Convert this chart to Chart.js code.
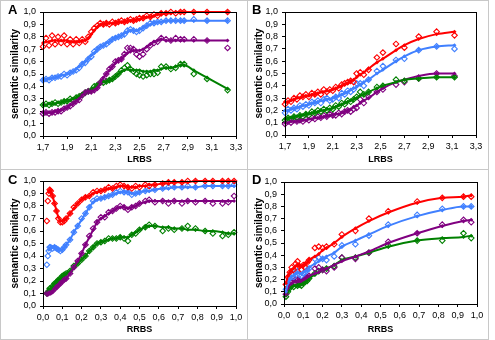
<!DOCTYPE html>
<html>
<head>
<meta charset="utf-8">
<script src="https://cdn.jsdelivr.net/npm/chart.js@4.4.0/dist/chart.umd.min.js"></script>
<style>
  body { margin: 0; background: #fff; }
  #figure { position: relative; width: 495px; height: 340px; }
  .frame { position: absolute; left: 0; top: 0; width: 489px; height: 340px; border: 1px solid #c8c8c8; box-sizing: border-box; }
  .vline { position: absolute; left: 247px; top: 0; width: 1px; height: 340px; background: #c8c8c8; }
  .hline { position: absolute; left: 0; top: 169px; width: 489px; height: 1px; background: #c8c8c8; }
  canvas { position: absolute; }
  .tag { position: absolute; font: bold 13px Arial, "Liberation Sans", sans-serif; color: #000; }
</style>
</head>
<body>
<div id="figure">
  <div class="frame"></div>
  <div class="vline"></div>
  <div class="hline"></div>
  <canvas id="panelA" width="245" height="168" style="left:1px;top:1px"></canvas>
  <canvas id="panelB" width="240" height="168" style="left:248px;top:1px"></canvas>
  <canvas id="panelC" width="245" height="168" style="left:1px;top:171px"></canvas>
  <canvas id="panelD" width="240" height="168" style="left:248px;top:171px"></canvas>
  <div class="tag" style="left:8px;top:2px">A</div>
  <div class="tag" style="left:252px;top:2px">B</div>
  <div class="tag" style="left:8px;top:172px">C</div>
  <div class="tag" style="left:252px;top:172px">D</div>
</div>
<script>
//  Colours used by the four series (same in every panel)
const red = '#ff0000';
const blue = '#4080ff';
const purple = '#800080';
const green = '#008000';

//  Tick labels
const yTicks = [0, 0.1, 0.2, 0.3, 0.4, 0.5, 0.6, 0.7, 0.8, 0.9, 1.0];
const xTicksLRBS = [1.7, 1.9, 2.1, 2.3, 2.5, 2.7, 2.9, 3.1, 3.3];
const xTicksRRBS = [0, 0.1, 0.2, 0.3, 0.4, 0.5, 0.6, 0.7, 0.8, 0.9, 1.0];

//******************************************************************************
//                               Panel A data
//******************************************************************************
const xA = [1.7, 1.725, 1.75, 1.775, 1.8, 1.825, 1.85, 1.875, 1.9, 1.925, 1.95, 1.975,
  2.0, 2.025, 2.05, 2.075, 2.1, 2.125, 2.15, 2.175, 2.2, 2.225, 2.25, 2.275, 2.3, 2.325,
  2.35, 2.375, 2.4, 2.425, 2.45, 2.475, 2.5,
  2.53, 2.56, 2.59, 2.62, 2.65, 2.68, 2.72, 2.76, 2.8, 2.84, 2.87, 2.95, 3.06, 3.23];
const redRawA = [0.72, 0.79, 0.73, 0.81, 0.74, 0.80, 0.75, 0.81, 0.74, 0.78, 0.74, 0.78,
  0.75, 0.78, 0.76, 0.80, 0.84, 0.87, 0.89, 0.91, 0.90, 0.91, 0.90, 0.92, 0.91, 0.92,
  0.93, 0.92, 0.93, 0.94, 0.93, 0.94, 0.95,
  0.95, 0.97, 0.96, 0.98, 0.97, 0.99, 0.99, 1.0, 0.99, 1.0, 1.0, 1.0, 1.0, 1.0];
const redFitA = [0.75, 0.76, 0.76, 0.77, 0.77, 0.77, 0.77, 0.77, 0.77, 0.76, 0.76, 0.76,
  0.76, 0.77, 0.77, 0.79, 0.82, 0.85, 0.88, 0.90, 0.90, 0.91, 0.91, 0.91, 0.91, 0.92,
  0.92, 0.92, 0.93, 0.93, 0.93, 0.94, 0.94,
  0.95, 0.96, 0.96, 0.97, 0.98, 0.98, 0.99, 0.99, 1.0, 1.0, 1.0, 1.0, 1.0, 1.0];
const blueRawA = [0.45, 0.46, 0.45, 0.47, 0.47, 0.48, 0.48, 0.50, 0.49, 0.51, 0.52, 0.53,
  0.55, 0.58, 0.59, 0.62, 0.64, 0.68, 0.70, 0.72, 0.73, 0.74, 0.76, 0.78, 0.79, 0.80,
  0.81, 0.82, 0.85, 0.86, 0.85, 0.84, 0.85,
  0.87, 0.89, 0.91, 0.91, 0.92, 0.92, 0.93, 0.93, 0.93, 0.93, 0.93, 0.94, 0.93, 0.93];
const blueFitA = [0.45, 0.46, 0.46, 0.47, 0.47, 0.48, 0.49, 0.49, 0.50, 0.51, 0.52, 0.54,
  0.56, 0.58, 0.60, 0.62, 0.65, 0.67, 0.70, 0.72, 0.73, 0.75, 0.76, 0.78, 0.79, 0.80,
  0.81, 0.83, 0.84, 0.85, 0.85, 0.85, 0.86,
  0.87, 0.89, 0.90, 0.91, 0.92, 0.92, 0.93, 0.93, 0.93, 0.93, 0.93, 0.93, 0.93, 0.93];
const purpleRawA = [0.18, 0.19, 0.18, 0.19, 0.19, 0.20, 0.20, 0.22, 0.23, 0.24, 0.26, 0.28,
  0.29, 0.33, 0.35, 0.36, 0.36, 0.37, 0.39, 0.43, 0.46, 0.50, 0.54, 0.56, 0.60, 0.61,
  0.62, 0.66, 0.71, 0.71, 0.70, 0.66, 0.64,
  0.66, 0.70, 0.73, 0.75, 0.76, 0.79, 0.78, 0.77, 0.79, 0.78, 0.78, 0.78, 0.77, 0.71];
const purpleFitA = [0.19, 0.19, 0.19, 0.19, 0.20, 0.20, 0.21, 0.22, 0.23, 0.25, 0.26, 0.28,
  0.30, 0.33, 0.35, 0.36, 0.36, 0.37, 0.39, 0.43, 0.47, 0.50, 0.53, 0.56, 0.59, 0.61,
  0.62, 0.65, 0.67, 0.68, 0.69, 0.69, 0.69,
  0.70, 0.72, 0.74, 0.76, 0.77, 0.78, 0.77, 0.77, 0.77, 0.77, 0.77, 0.77, 0.77, 0.77];
const greenRawA = [0.25, 0.26, 0.25, 0.26, 0.27, 0.26, 0.27, 0.28, 0.28, 0.30, 0.29, 0.31,
  0.32, 0.33, 0.35, 0.36, 0.37, 0.40, 0.41, 0.43, 0.43, 0.44, 0.45, 0.46, 0.48, 0.50,
  0.53, 0.55, 0.57, 0.54, 0.52, 0.50, 0.49,
  0.48, 0.49, 0.50, 0.50, 0.51, 0.56, 0.56, 0.54, 0.55, 0.58, 0.58, 0.50, 0.46, 0.37];
const greenFitA = [0.25, 0.25, 0.26, 0.26, 0.26, 0.27, 0.27, 0.28, 0.28, 0.29, 0.30, 0.31,
  0.32, 0.34, 0.35, 0.36, 0.37, 0.39, 0.41, 0.43, 0.44, 0.44, 0.45, 0.46, 0.48, 0.50,
  0.52, 0.53, 0.54, 0.53, 0.53, 0.53, 0.53,
  0.52, 0.52, 0.52, 0.53, 0.53, 0.54, 0.55, 0.55, 0.56, 0.57, 0.57, 0.53, 0.47, 0.38];

//******************************************************************************
//                               Panel B data
//******************************************************************************
const xB = [1.7, 1.725, 1.75, 1.775, 1.8, 1.825, 1.85, 1.875, 1.9, 1.925, 1.95, 1.975,
  2.0, 2.025, 2.05, 2.075, 2.1, 2.125, 2.15, 2.175, 2.2, 2.225, 2.25, 2.275, 2.3,
  2.33, 2.36, 2.4, 2.47, 2.52, 2.63, 2.7, 2.82, 2.97, 3.12];
const redRawB = [0.25, 0.28, 0.27, 0.30, 0.29, 0.32, 0.31, 0.33, 0.31, 0.34, 0.33, 0.35,
  0.33, 0.37, 0.35, 0.37, 0.36, 0.39, 0.38, 0.41, 0.42, 0.43, 0.44, 0.43, 0.50,
  0.51, 0.49, 0.53, 0.63, 0.67, 0.74, 0.71, 0.80, 0.84, 0.81];
const redFitB = [0.27, 0.27, 0.28, 0.29, 0.30, 0.30, 0.31, 0.32, 0.32, 0.33, 0.33, 0.34,
  0.35, 0.35, 0.36, 0.36, 0.37, 0.38, 0.39, 0.40, 0.41, 0.42, 0.44, 0.45, 0.47,
  0.49, 0.51, 0.54, 0.59, 0.62, 0.69, 0.73, 0.78, 0.82, 0.84];
const blueRawB = [0.18, 0.21, 0.20, 0.22, 0.21, 0.24, 0.23, 0.25, 0.24, 0.27, 0.26, 0.28,
  0.26, 0.29, 0.30, 0.28, 0.29, 0.31, 0.30, 0.34, 0.33, 0.36, 0.35, 0.37, 0.42,
  0.42, 0.40, 0.45, 0.52, 0.56, 0.61, 0.62, 0.69, 0.72, 0.70];
const blueFitB = [0.20, 0.20, 0.21, 0.22, 0.22, 0.23, 0.24, 0.24, 0.25, 0.26, 0.26, 0.27,
  0.28, 0.28, 0.29, 0.29, 0.30, 0.31, 0.32, 0.33, 0.34, 0.35, 0.37, 0.38, 0.39,
  0.41, 0.43, 0.45, 0.50, 0.53, 0.60, 0.64, 0.69, 0.72, 0.73];
const purpleRawB = [0.09, 0.11, 0.10, 0.12, 0.11, 0.12, 0.11, 0.13, 0.12, 0.14, 0.13, 0.15,
  0.14, 0.16, 0.15, 0.17, 0.16, 0.16, 0.18, 0.17, 0.19, 0.20, 0.19, 0.21, 0.22,
  0.29, 0.26, 0.31, 0.35, 0.37, 0.41, 0.43, 0.46, 0.50, 0.48];
const purpleFitB = [0.10, 0.10, 0.11, 0.11, 0.11, 0.12, 0.12, 0.12, 0.13, 0.13, 0.14, 0.14,
  0.14, 0.15, 0.15, 0.16, 0.16, 0.17, 0.17, 0.18, 0.19, 0.20, 0.21, 0.23, 0.24,
  0.26, 0.28, 0.30, 0.35, 0.38, 0.43, 0.45, 0.48, 0.50, 0.50];
const greenRawB = [0.12, 0.14, 0.13, 0.15, 0.14, 0.16, 0.15, 0.17, 0.16, 0.19, 0.18, 0.20,
  0.19, 0.21, 0.20, 0.22, 0.21, 0.24, 0.23, 0.26, 0.25, 0.28, 0.27, 0.29, 0.31,
  0.35, 0.33, 0.35, 0.39, 0.40, 0.45, 0.44, 0.46, 0.47, 0.47];
const greenFitB = [0.13, 0.14, 0.14, 0.15, 0.15, 0.16, 0.16, 0.17, 0.17, 0.18, 0.18, 0.19,
  0.20, 0.20, 0.21, 0.21, 0.22, 0.23, 0.24, 0.25, 0.26, 0.27, 0.28, 0.29, 0.30,
  0.32, 0.33, 0.35, 0.38, 0.40, 0.43, 0.45, 0.46, 0.47, 0.47];

//******************************************************************************
//                               Panel C data
//******************************************************************************
const xC = [0.02, 0.025, 0.03, 0.035, 0.04, 0.05, 0.06, 0.07, 0.08, 0.09, 0.10, 0.11, 0.12,
  0.14, 0.16, 0.18, 0.20, 0.22, 0.24, 0.26, 0.28, 0.30, 0.32, 0.34, 0.36, 0.38, 0.40,
  0.42, 0.44, 0.46, 0.48, 0.50,
  0.53, 0.55, 0.58, 0.62, 0.65, 0.68, 0.72, 0.75, 0.79, 0.84, 0.88, 0.93, 0.96, 0.99];
const redRawC = [0.68, 0.84, 0.90, 0.93, 0.92, 0.88, 0.82, 0.76, 0.70, 0.67, 0.67, 0.68, 0.70,
  0.74, 0.79, 0.82, 0.85, 0.87, 0.88, 0.91, 0.92, 0.92, 0.93, 0.95, 0.94, 0.96, 0.97,
  0.96, 0.95, 0.94, 0.96, 0.95,
  0.97, 0.96, 0.97, 0.98, 0.99, 0.99, 0.99, 1.0, 1.0, 1.0, 1.0, 1.0, 1.0, 1.0];
const redFitC = [null, null, 0.91, 0.93, 0.92, 0.88, 0.82, 0.76, 0.71, 0.68, 0.68, 0.69, 0.70,
  0.74, 0.78, 0.82, 0.85, 0.87, 0.88, 0.90, 0.91, 0.92, 0.93, 0.94, 0.94, 0.95, 0.96,
  0.96, 0.95, 0.95, 0.95, 0.96,
  0.96, 0.97, 0.97, 0.98, 0.98, 0.99, 0.99, 0.99, 1.0, 1.0, 1.0, 1.0, 1.0, 1.0];
const blueRawC = [0.33, 0.40, 0.44, 0.47, 0.47, 0.46, 0.47, 0.46, 0.45, 0.44, 0.45, 0.47, 0.49,
  0.53, 0.59, 0.64, 0.70, 0.74, 0.79, 0.84, 0.86, 0.86, 0.87, 0.88, 0.89, 0.91, 0.92,
  0.91, 0.91, 0.89, 0.90, 0.91,
  0.92, 0.93, 0.93, 0.94, 0.95, 0.95, 0.95, 0.96, 0.95, 0.96, 0.96, 0.96, 0.96, 0.97];
const blueFitC = [null, null, 0.45, 0.46, 0.47, 0.47, 0.47, 0.46, 0.45, 0.45, 0.45, 0.47, 0.49,
  0.53, 0.59, 0.64, 0.69, 0.74, 0.79, 0.83, 0.85, 0.86, 0.87, 0.88, 0.89, 0.90, 0.91,
  0.91, 0.91, 0.90, 0.90, 0.91,
  0.92, 0.92, 0.93, 0.94, 0.94, 0.95, 0.95, 0.95, 0.95, 0.96, 0.96, 0.96, 0.96, 0.96];
const purpleRawC = [0.10, 0.10, 0.11, 0.11, 0.11, 0.12, 0.14, 0.15, 0.17, 0.18, 0.20, 0.21, 0.22,
  0.26, 0.31, 0.36, 0.42, 0.49, 0.56, 0.62, 0.67, 0.71, 0.71, 0.75, 0.76, 0.78, 0.80,
  0.79, 0.77, 0.79, 0.80, 0.82,
  0.84, 0.85, 0.83, 0.84, 0.82, 0.84, 0.82, 0.84, 0.83, 0.84, 0.82, 0.82, 0.83, 0.88];
const purpleFitC = [0.10, 0.10, 0.11, 0.11, 0.11, 0.12, 0.14, 0.15, 0.17, 0.18, 0.20, 0.21, 0.22,
  0.26, 0.31, 0.36, 0.42, 0.49, 0.55, 0.61, 0.67, 0.70, 0.72, 0.74, 0.76, 0.78, 0.79,
  0.79, 0.78, 0.79, 0.80, 0.82,
  0.83, 0.84, 0.84, 0.84, 0.84, 0.84, 0.84, 0.84, 0.84, 0.84, 0.84, 0.84, 0.84, 0.84];
const greenRawC = [0.10, 0.11, 0.12, 0.14, 0.14, 0.16, 0.18, 0.19, 0.21, 0.22, 0.24, 0.25, 0.26,
  0.28, 0.32, 0.34, 0.37, 0.40, 0.44, 0.47, 0.50, 0.51, 0.52, 0.54, 0.54, 0.54, 0.55,
  0.54, 0.52, 0.57, 0.58, 0.61,
  0.63, 0.65, 0.64, 0.60, 0.62, 0.61, 0.62, 0.64, 0.62, 0.60, 0.58, 0.56, 0.57, 0.59];
const greenFitC = [0.10, 0.11, 0.12, 0.13, 0.14, 0.16, 0.18, 0.19, 0.21, 0.22, 0.24, 0.25, 0.26,
  0.28, 0.31, 0.34, 0.37, 0.40, 0.44, 0.47, 0.50, 0.51, 0.52, 0.53, 0.54, 0.54, 0.55,
  0.55, 0.55, 0.57, 0.59, 0.61,
  0.63, 0.64, 0.64, 0.63, 0.63, 0.62, 0.62, 0.61, 0.61, 0.60, 0.60, 0.59, 0.58, 0.58];

//******************************************************************************
//                               Panel D data
//******************************************************************************
const xD = [0.01, 0.02, 0.03, 0.04, 0.05, 0.06, 0.07, 0.08, 0.09, 0.10, 0.11, 0.12, 0.13,
  0.16, 0.18, 0.20, 0.22, 0.26, 0.30, 0.37, 0.44, 0.54, 0.69, 0.82, 0.93, 0.97];
const redRawD = [0.16, 0.22, 0.26, 0.30, 0.28, 0.33, 0.35, 0.31, 0.28, 0.32, 0.30, 0.34, 0.36,
  0.46, 0.47, 0.46, 0.47, 0.49, 0.57, 0.60, 0.70, 0.76, 0.84, 0.87, 0.88, 0.88];
const redFitD = [0.17, 0.23, 0.26, 0.28, 0.29, 0.31, 0.32, 0.31, 0.31, 0.32, 0.33, 0.34, 0.36,
  0.39, 0.41, 0.44, 0.46, 0.50, 0.55, 0.62, 0.68, 0.75, 0.83, 0.87, 0.88, 0.89];
const blueRawD = [0.12, 0.17, 0.21, 0.24, 0.22, 0.26, 0.27, 0.24, 0.23, 0.25, 0.26, 0.28, 0.29,
  0.37, 0.38, 0.37, 0.36, 0.39, 0.48, 0.49, 0.56, 0.65, 0.73, 0.78, 0.80, 0.80];
const blueFitD = [0.10, 0.17, 0.21, 0.23, 0.23, 0.25, 0.26, 0.25, 0.25, 0.26, 0.27, 0.28, 0.30,
  0.33, 0.35, 0.37, 0.39, 0.42, 0.47, 0.52, 0.57, 0.64, 0.72, 0.77, 0.80, 0.80];
const purpleRawD = [0.08, 0.13, 0.16, 0.18, 0.17, 0.20, 0.20, 0.19, 0.18, 0.19, 0.21, 0.22, 0.23,
  0.29, 0.30, 0.28, 0.27, 0.30, 0.38, 0.37, 0.42, 0.51, 0.58, 0.65, 0.69, 0.67];
const purpleFitD = [0.08, 0.13, 0.16, 0.17, 0.18, 0.19, 0.19, 0.19, 0.19, 0.20, 0.21, 0.22, 0.23,
  0.25, 0.26, 0.28, 0.29, 0.32, 0.35, 0.39, 0.43, 0.50, 0.58, 0.64, 0.68, 0.69];
const greenRawD = [0.06, 0.10, 0.13, 0.15, 0.14, 0.16, 0.15, 0.16, 0.15, 0.17, 0.18, 0.19, 0.21,
  0.25, 0.27, 0.28, 0.29, 0.31, 0.38, 0.38, 0.42, 0.48, 0.52, 0.52, 0.58, 0.54];
const greenFitD = [0.07, 0.10, 0.13, 0.14, 0.15, 0.15, 0.15, 0.16, 0.16, 0.17, 0.18, 0.19, 0.21,
  0.24, 0.26, 0.28, 0.29, 0.32, 0.36, 0.39, 0.42, 0.47, 0.52, 0.54, 0.55, 0.56];

//******************************************************************************
//  Panel layout: canvas id, x data, axis range, and the plot area box
//  (left / right / top / bottom of the plot area in canvas pixels)
//******************************************************************************
const panels = [
  { id: 'panelA', xs: xA, xTicks: xTicksLRBS, xTitle: 'LRBS', box: [42, 235, 11, 135], titleX: 9,
    series: [[redRawA, redFitA, red], [blueRawA, blueFitA, blue], [purpleRawA, purpleFitA, purple], [greenRawA, greenFitA, green]] },
  { id: 'panelB', xs: xB, xTicks: xTicksLRBS, xTitle: 'LRBS', box: [37, 228, 11, 134], titleX: 6,
    series: [[redRawB, redFitB, red], [blueRawB, blueFitB, blue], [greenRawB, greenFitB, green], [purpleRawB, purpleFitB, purple]] },
  { id: 'panelC', xs: xC, xTicks: xTicksRRBS, xTitle: 'RRBS', box: [42, 235, 10, 135], titleX: 9,
    series: [[redRawC, redFitC, red], [blueRawC, blueFitC, blue], [purpleRawC, purpleFitC, purple], [greenRawC, greenFitC, green]] },
  { id: 'panelD', xs: xD, xTicks: xTicksRRBS, xTitle: 'RRBS', box: [36, 229, 11, 133], titleX: 6,
    series: [[redRawD, redFitD, red], [blueRawD, blueFitD, blue], [purpleRawD, purpleFitD, purple], [greenRawD, greenFitD, green]] }
];

//  draws the black frame round the plot area
const frameBox = {
  id: 'frameBox',
  afterDatasetsDraw(chart) {
    const area = chart.chartArea;
    const ctx = chart.ctx;
    ctx.save();
    ctx.strokeStyle = '#000';
    ctx.lineWidth = 1;
    ctx.strokeRect(Math.round(area.left) + 0.5, Math.round(area.top) + 0.5,
                   Math.round(area.right - area.left), Math.round(area.bottom - area.top));
    ctx.restore();
  }
};

function toPoints(xs, ys) {
  let points = [];
  for (let i = 0; i < xs.length; i++) {
    if (ys[i] !== null) {
      points.push({ x: xs[i], y: ys[i] });
    }
  }
  return points;
}

function commaLabel(value) {
  return value.toFixed(1).replace('.', ',');
}

function buildPanel(panel) {
  let canvas = document.getElementById(panel.id);
  let [left, right, top, bottom] = panel.box;
  let lines = [];
  let markers = [];

  for (let [raw, fit, colour] of panel.series) {
    lines.push({
      data: toPoints(panel.xs, fit),
      showLine: true,
      borderColor: colour,
      borderWidth: 2,
      cubicInterpolationMode: 'monotone',
      pointStyle: 'rectRot',
      pointRadius: 2,
      pointBorderWidth: 0,
      pointBackgroundColor: colour,
      clip: false
    });
    markers.push({
      data: toPoints(panel.xs, raw),
      showLine: false,
      pointStyle: 'rectRot',
      pointRadius: 2.8,
      pointBorderWidth: 1.1,
      pointBorderColor: colour,
      pointBackgroundColor: 'rgba(255,255,255,0)',
      clip: false
    });
  }

  let tickFont = { family: 'Arial, "Liberation Sans", sans-serif', size: 9 };
  let xTicks = panel.xTicks;

  new Chart(canvas, {
    type: 'scatter',
    data: { datasets: lines.concat(markers) },
    options: {
      responsive: false,
      animation: false,
      events: [],
      layout: { padding: { top: top, right: canvas.width - right, left: 0, bottom: 0 } },
      plugins: { legend: { display: false }, tooltip: { enabled: false } },
      scales: {
        x: {
          type: 'linear',
          min: xTicks[0],
          max: xTicks[xTicks.length - 1],
          afterBuildTicks: (scale) => { scale.ticks = xTicks.map(v => ({ value: v })); },
          afterFit: (scale) => { scale.height = canvas.height - bottom; },
          border: { display: false },
          grid: { drawOnChartArea: false, drawTicks: true, tickLength: 3, color: '#000' },
          ticks: { font: tickFont, color: '#000', padding: 3, maxRotation: 0, autoSkip: false,
                   callback: (value) => commaLabel(value) },
          title: { display: true, text: panel.xTitle, color: '#000',
                   font: { family: 'Arial, "Liberation Sans", sans-serif', size: 9, weight: 'bold', lineHeight: 1 },
                   padding: { top: 0, bottom: 5 } }
        },
        y: {
          type: 'linear',
          min: 0,
          max: 1,
          afterBuildTicks: (scale) => { scale.ticks = yTicks.map(v => ({ value: v })); },
          afterFit: (scale) => { scale.width = left; },
          border: { display: false },
          grid: { drawOnChartArea: false, drawTicks: true, tickLength: 3, color: '#000' },
          ticks: { font: tickFont, color: '#000', padding: 4, autoSkip: false,
                   callback: (value) => commaLabel(value) },
          title: { display: true, text: 'semantic similarity', color: '#000',
                   font: { family: 'Arial, "Liberation Sans", sans-serif', size: 10, weight: 'bold', lineHeight: 1 },
                   padding: { top: panel.titleX, bottom: 0 } }
        }
      }
    },
    plugins: [frameBox]
  });
}

for (let panel of panels) {
  buildPanel(panel);
}
</script>
</body>
</html>
